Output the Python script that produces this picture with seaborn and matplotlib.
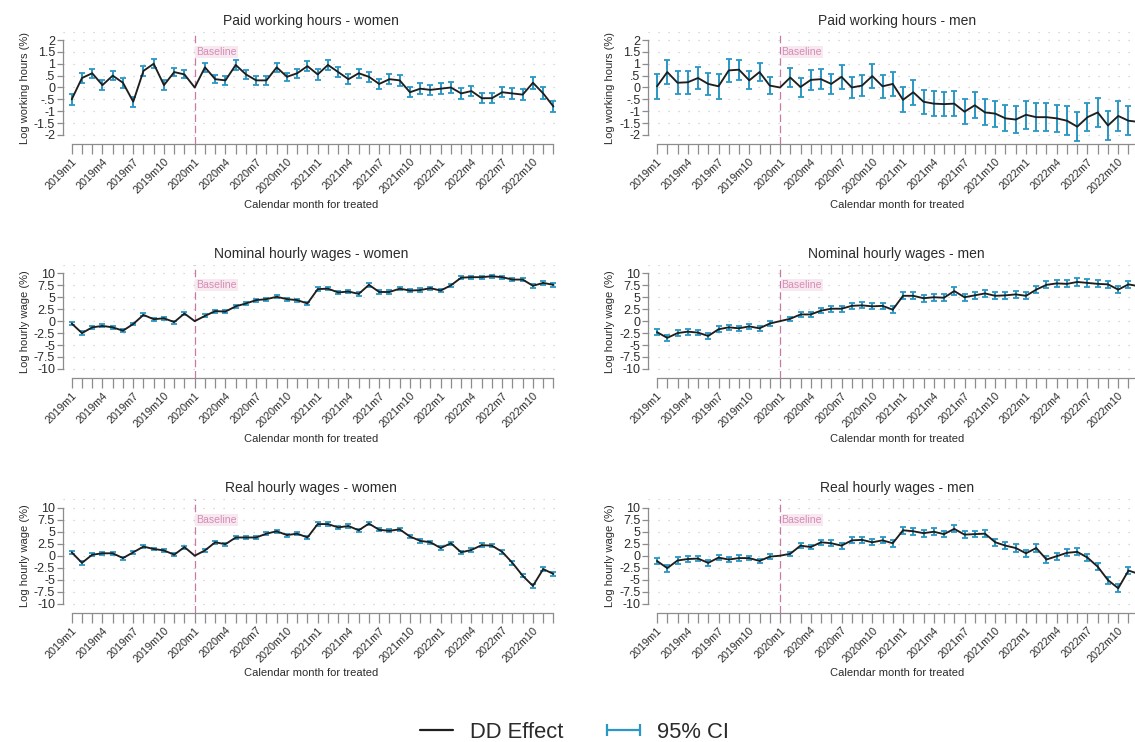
import numpy as np
import pandas as pd
import matplotlib
matplotlib.use("Agg")
import matplotlib.pyplot as plt
import seaborn as sns
from matplotlib.lines import Line2D

# ---------------- data ----------------
MONTHS = [f"{y}m{m}" for y in (2019, 2020, 2021, 2022) for m in range(1, 13)]
TICK_LABELS = ["2019m1", "2019m4", "2019m7", "2019m10",
               "2020m1", "2020m4", "2020m7", "2020m10",
               "2021m1", "2021m4", "2021m7", "2021m10",
               "2022m1", "2022m4", "2022m7", "2022m10"]
BASELINE = "2020m1"

hours_women = [-0.5, 0.4, 0.6, 0.1, 0.5, 0.2, -0.6, 0.7, 1.0, 0.1, 0.65, 0.55,
               0.0, 0.85, 0.35, 0.3, 0.95, 0.55, 0.3, 0.3, 0.85, 0.45, 0.6, 0.9,
               0.55, 0.95, 0.65, 0.35, 0.6, 0.45, 0.15, 0.35, 0.3, -0.2, -0.05, -0.1,
               -0.05, 0.0, -0.25, -0.15, -0.45, -0.45, -0.2, -0.25, -0.3, 0.2, -0.25, -0.8]
hours_women_ci = [0.22, 0.22, 0.2, 0.2, 0.2, 0.22, 0.22, 0.2, 0.18, 0.2, 0.18, 0.17,
                  0.0, 0.2, 0.18, 0.2, 0.2, 0.2, 0.18, 0.2, 0.2, 0.18, 0.2, 0.22,
                  0.22, 0.22, 0.2, 0.2, 0.2, 0.2, 0.2, 0.2, 0.22, 0.22, 0.22, 0.22,
                  0.22, 0.22, 0.22, 0.22, 0.2, 0.2, 0.22, 0.22, 0.22, 0.25, 0.25, 0.25]

hours_men = [0.05, 0.65, 0.2, 0.22, 0.4, 0.15, 0.05, 0.72, 0.75, 0.3, 0.65, 0.08,
             0.0, 0.42, 0.02, 0.32, 0.35, 0.15, 0.45, 0.0, 0.08, 0.48, 0.05, 0.15,
             -0.52, -0.2, -0.6, -0.68, -0.7, -0.68, -1.02, -0.75, -1.05, -1.1, -1.3, -1.35,
             -1.15, -1.25, -1.25, -1.3, -1.4, -1.65, -1.25, -1.05, -1.6, -1.2, -1.4, -1.45]
hours_men_ci = [0.53, 0.52, 0.48, 0.48, 0.48, 0.45, 0.52, 0.48, 0.42, 0.38, 0.38, 0.35,
                0.0, 0.4, 0.4, 0.42, 0.42, 0.42, 0.5, 0.45, 0.45, 0.5, 0.48, 0.52,
                0.52, 0.52, 0.5, 0.52, 0.5, 0.52, 0.52, 0.55, 0.55, 0.55, 0.55, 0.55,
                0.6, 0.58, 0.58, 0.58, 0.6, 0.6, 0.6, 0.62, 0.6, 0.62, 0.62, 0.62]

nominal_women = [-0.5, -2.5, -1.3, -1.0, -1.3, -2.0, -0.6, 1.3, 0.4, 0.6, -0.2, 1.6,
                 0.0, 1.1, 2.1, 2.0, 3.1, 3.7, 4.4, 4.6, 5.1, 4.6, 4.4, 3.7,
                 6.7, 6.8, 6.0, 6.2, 5.7, 7.6, 6.1, 6.1, 6.8, 6.4, 6.5, 6.9,
                 6.4, 7.5, 9.1, 9.2, 9.2, 9.4, 9.2, 8.7, 8.7, 7.4, 8.0, 7.6]
nominal_women_ci = [0.35, 0.35, 0.3, 0.3, 0.3, 0.3, 0.3, 0.3, 0.3, 0.3, 0.3, 0.3,
                    0.0, 0.3, 0.3, 0.3, 0.3, 0.3, 0.3, 0.3, 0.3, 0.3, 0.3, 0.35,
                    0.35, 0.35, 0.35, 0.35, 0.35, 0.35, 0.35, 0.35, 0.35, 0.35, 0.35, 0.35,
                    0.35, 0.35, 0.35, 0.35, 0.35, 0.35, 0.35, 0.35, 0.35, 0.4, 0.4, 0.4]

nominal_men = [-2.3, -3.5, -2.5, -2.2, -2.4, -3.1, -1.7, -1.3, -1.5, -1.1, -1.5, -0.5,
               0.0, 0.5, 1.4, 1.4, 2.2, 2.6, 2.6, 3.2, 3.3, 3.1, 3.2, 2.4,
               5.3, 5.3, 4.8, 5.0, 4.9, 6.3, 5.0, 5.4, 5.8, 5.3, 5.4, 5.6,
               5.3, 6.6, 7.6, 7.9, 7.8, 8.2, 8.0, 7.8, 7.7, 6.6, 7.7, 7.3]
nominal_men_ci = [0.7, 0.7, 0.65, 0.6, 0.6, 0.65, 0.6, 0.55, 0.55, 0.5, 0.5, 0.45,
                  0.0, 0.45, 0.5, 0.5, 0.55, 0.6, 0.6, 0.6, 0.65, 0.65, 0.65, 0.7,
                  0.7, 0.7, 0.7, 0.7, 0.7, 0.75, 0.7, 0.7, 0.7, 0.7, 0.7, 0.75,
                  0.75, 0.75, 0.75, 0.75, 0.75, 0.75, 0.75, 0.75, 0.75, 0.8, 0.8, 0.8]

real_women = [0.7, -1.5, 0.2, 0.5, 0.5, -0.5, 0.7, 1.9, 1.4, 1.1, 0.2, 1.8,
              0.0, 1.1, 2.8, 2.4, 3.8, 3.8, 3.8, 4.6, 5.1, 4.3, 4.6, 3.8,
              6.6, 6.6, 5.9, 6.2, 5.3, 6.7, 5.4, 5.2, 5.5, 4.0, 3.1, 2.8,
              1.6, 2.6, 0.7, 1.2, 2.2, 2.1, 0.8, -1.5, -4.2, -6.3, -2.8, -3.8]
real_women_ci = nominal_women_ci.copy()

real_men = [-1.1, -2.6, -1.0, -0.7, -0.6, -1.5, -0.4, -0.8, -0.5, -0.5, -1.1, -0.2,
            0.0, 0.4, 2.1, 1.8, 2.8, 2.6, 2.1, 3.2, 3.3, 2.8, 3.2, 2.6,
            5.3, 5.1, 4.7, 5.0, 4.5, 5.6, 4.4, 4.5, 4.6, 2.8, 2.1, 1.6,
            0.5, 1.6, -0.8, -0.1, 0.6, 0.8, -0.4, -2.3, -5.1, -6.8, -3.1, -3.8]
real_men_ci = nominal_men_ci.copy()

HOURS_TICKS = [-2, -1.5, -1, -0.5, 0, 0.5, 1, 1.5, 2]
HOURS_TICKLABELS = ["-2", "-1.5", "-1", "-.5", "0", ".5", "1", "1.5", "2"]
WAGE_TICKS = [-10, -7.5, -5, -2.5, 0, 2.5, 5, 7.5, 10]
WAGE_TICKLABELS = ["-10", "-7.5", "-5", "-2.5", "0", "2.5", "5", "7.5", "10"]

PANELS = [
    ("Paid working hours - women", "Log working hours (%)", hours_women, hours_women_ci, "hours"),
    ("Paid working hours - men", "Log working hours (%)", hours_men, hours_men_ci, "hours"),
    ("Nominal hourly wages - women", "Log hourly wage (%)", nominal_women, nominal_women_ci, "wage"),
    ("Nominal hourly wages - men", "Log hourly wage (%)", nominal_men, nominal_men_ci, "wage"),
    ("Real hourly wages - women", "Log hourly wage (%)", real_women, real_women_ci, "wage"),
    ("Real hourly wages - men", "Log hourly wage (%)", real_men, real_men_ci, "wage"),
]

# ---------------- style ----------------
sns.set_theme(style="white")
plt.rcParams["font.family"] = ["Liberation Sans", "DejaVu Sans"]

LINE_COLOR = "#1e1e1e"
CI_COLOR = "#2a97c4"
BASE_COLOR = "#c77aa4"
GRID_COLOR = "#cdcdcd"
AXIS_COLOR = "#8c8c8c"
TEXT_COLOR = "#2b2b2b"

W, H = 1135, 742
fig = plt.figure(figsize=(W / 100, H / 100), dpi=100)
fig.patch.set_facecolor("white")

# axes rectangles in pixels: (left, right) and (top, bottom)
col_px = [(62.7, 560.0), (648.0, 1145.3)]
row_px = [(31.7, 144.0), (265.0, 378.0), (499.4, 612.7)]

x_idx = np.arange(len(MONTHS))
base_idx = MONTHS.index(BASELINE)
tick_pos = [MONTHS.index(t) for t in TICK_LABELS]

for i, (title, ylabel, vals, ci, kind) in enumerate(PANELS):
    r, c = divmod(i, 2)
    l_px, r_px = col_px[c]
    t_px, b_px = row_px[r]
    ax = fig.add_axes([l_px / W, 1 - b_px / H, (r_px - l_px) / W, (b_px - t_px) / H])
    ax.set_facecolor("white")

    if kind == "hours":
        ticks, tlabels, lo, hi = HOURS_TICKS, HOURS_TICKLABELS, -2.38, 2.35
    else:
        ticks, tlabels, lo, hi = WAGE_TICKS, WAGE_TICKLABELS, -11.9, 11.75

    df = pd.DataFrame({"month": x_idx, "effect": vals,
                       "ci": [np.nan if v == 0 else v for v in ci]})

    # grid
    for t in list(ticks) + [hi]:
        ax.axhline(t, color=GRID_COLOR, lw=0.9, ls=(0, (1, 7)), zorder=0)

    # baseline
    ax.axvline(base_idx, color=BASE_COLOR, lw=0.9, ls=(0, (6, 3)), zorder=1)
    ax.text(base_idx + 0.15, lo + 0.82 * (hi - lo), "Baseline", color="#d58db5",
            fontsize=7.6, ha="left", va="center",
            bbox=dict(facecolor="#f8e8f0", edgecolor="none", pad=0.6), zorder=2)

    # CIs
    ax.errorbar(df["month"], df["effect"], yerr=df["ci"], fmt="none",
                ecolor=CI_COLOR, elinewidth=1.4, capsize=2.4, capthick=1.3, zorder=3)
    # DD effect
    sns.lineplot(data=df, x="month", y="effect", ax=ax, color=LINE_COLOR,
                 lw=1.35, legend=False, zorder=4)

    ax.set_xlim(-0.88, 47.64)
    ax.set_ylim(lo, hi)
    ax.set_yticks(ticks)
    ax.set_yticklabels(tlabels)
    ax.set_xticks(tick_pos)
    ax.set_xticks(x_idx, minor=True)
    ax.set_xticklabels(TICK_LABELS, rotation=45, ha="right", rotation_mode="anchor")

    for s in ("top", "right"):
        ax.spines[s].set_visible(False)
    ax.spines["left"].set_bounds(ticks[0], ticks[-1])
    ax.spines["bottom"].set_bounds(0, len(MONTHS) - 1)
    for s in ("left", "bottom"):
        ax.spines[s].set_color(AXIS_COLOR)
        ax.spines[s].set_linewidth(0.9)

    ax.tick_params(axis="x", which="both", direction="out", length=7, width=0.9,
                   color=AXIS_COLOR, labelsize=7.8, labelcolor=TEXT_COLOR, pad=2,
                   bottom=True)
    ax.tick_params(axis="y", direction="out", length=4, width=0.9, color=AXIS_COLOR,
                   labelsize=9, labelcolor=TEXT_COLOR, pad=1.5, left=True)

    ax.set_title(title, fontsize=10, color=TEXT_COLOR, pad=5)
    ax.set_xlabel("Calendar month for treated", fontsize=8, color=TEXT_COLOR, labelpad=3)
    ax.set_ylabel(ylabel, fontsize=8, color=TEXT_COLOR, labelpad=3)

handles = [Line2D([], [], color=LINE_COLOR, lw=1.6),
           Line2D([], [], color=CI_COLOR, lw=1.6, marker="|", markersize=8,
                  markeredgewidth=1.6)]
fig.legend(handles, ["DD Effect", "95% CI"], loc="center",
           bbox_to_anchor=(0.5035, 0.013), ncol=2, frameon=False, fontsize=15.8,
           handlelength=2.1, columnspacing=1.7, handletextpad=0.47, numpoints=2,
           labelcolor=TEXT_COLOR)

fig.savefig("out.png", dpi=100, facecolor="white")
